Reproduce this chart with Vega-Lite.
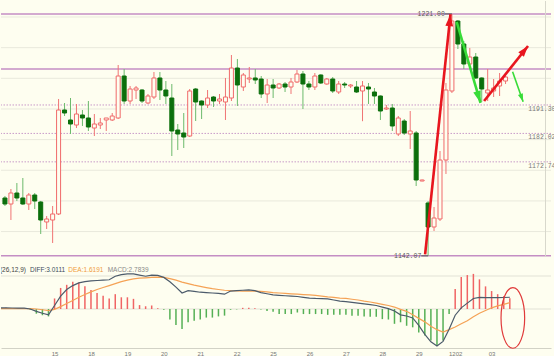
{
  "$schema": "https://vega.github.io/schema/vega-lite/v6.json",
  "padding": 0,
  "spacing": 0,
  "bounds": "flush",
  "background": "#fefef0",
  "resolve": {"scale": {"color": "independent"}},
  "config": {"view": {"stroke": null}, "font": "Liberation Sans"},
  "datasets": {
    "candles": [
      {"i":-1,"o":1160.95,"h":1161.6,"l":1158.34,"c":1158.99},
      {"i":0,"o":1158.99,"h":1163.88,"l":1153.77,"c":1162.58},
      {"i":1,"o":1162.58,"h":1165.84,"l":1159.97,"c":1160.95},
      {"i":2,"o":1160.95,"h":1167.47,"l":1158.7,"c":1158.99},
      {"i":3,"o":1158.99,"h":1162.58,"l":1157.03,"c":1161.93},
      {"i":4,"o":1161.93,"h":1162.58,"l":1157.36,"c":1159.97},
      {"i":5,"o":1159.64,"h":1160.0,"l":1149.2,"c":1153.77},
      {"i":6,"o":1153.12,"h":1155.07,"l":1150.83,"c":1154.1},
      {"i":7,"o":1153.77,"h":1158.34,"l":1146.27,"c":1155.73},
      {"i":8,"o":1155.73,"h":1193.25,"l":1155.4,"c":1189.66},
      {"i":9,"o":1189.66,"h":1191.94,"l":1187.7,"c":1188.68},
      {"i":10,"o":1186.4,"h":1193.57,"l":1181.83,"c":1185.09},
      {"i":11,"o":1184.76,"h":1191.62,"l":1183.78,"c":1188.35},
      {"i":12,"o":1188.03,"h":1189.66,"l":1184.44,"c":1187.05},
      {"i":13,"o":1187.05,"h":1192.59,"l":1182.81,"c":1184.11},
      {"i":14,"o":1183.78,"h":1188.35,"l":1181.17,"c":1185.09},
      {"i":15,"o":1184.76,"h":1187.05,"l":1183.46,"c":1185.42},
      {"i":16,"o":1186.4,"h":1187.05,"l":1182.81,"c":1187.05},
      {"i":17,"o":1186.4,"h":1188.68,"l":1186.07,"c":1187.7},
      {"i":18,"o":1187.05,"h":1204.34,"l":1186.72,"c":1200.75},
      {"i":19,"o":1200.75,"h":1203.03,"l":1191.62,"c":1192.59},
      {"i":20,"o":1192.59,"h":1197.49,"l":1191.62,"c":1196.51},
      {"i":21,"o":1196.18,"h":1197.49,"l":1193.25,"c":1196.84},
      {"i":22,"o":1196.18,"h":1196.5,"l":1191.94,"c":1192.59},
      {"i":23,"o":1191.94,"h":1194.88,"l":1191.62,"c":1194.23},
      {"i":24,"o":1193.9,"h":1202.06,"l":1193.25,"c":1200.1},
      {"i":25,"o":1200.1,"h":1202.06,"l":1192.92,"c":1196.18},
      {"i":26,"o":1196.18,"h":1199.12,"l":1191.62,"c":1194.23},
      {"i":27,"o":1193.57,"h":1198.14,"l":1174.65,"c":1182.81},
      {"i":28,"o":1183.13,"h":1185.09,"l":1176.61,"c":1181.83},
      {"i":29,"o":1182.15,"h":1188.68,"l":1177.26,"c":1180.85},
      {"i":30,"o":1181.17,"h":1196.51,"l":1180.85,"c":1195.86},
      {"i":31,"o":1196.51,"h":1196.84,"l":1186.07,"c":1192.27},
      {"i":32,"o":1192.59,"h":1192.8,"l":1186.72,"c":1191.29},
      {"i":33,"o":1191.29,"h":1196.18,"l":1190.31,"c":1193.57},
      {"i":34,"o":1193.9,"h":1194.23,"l":1190.64,"c":1192.59},
      {"i":35,"o":1192.59,"h":1194.88,"l":1191.62,"c":1193.25},
      {"i":36,"o":1192.27,"h":1200.1,"l":1186.4,"c":1193.9},
      {"i":37,"o":1193.57,"h":1207.6,"l":1192.59,"c":1203.36},
      {"i":38,"o":1203.36,"h":1206.3,"l":1190.96,"c":1197.81},
      {"i":39,"o":1197.16,"h":1201.73,"l":1195.86,"c":1201.08},
      {"i":40,"o":1199.77,"h":1203.69,"l":1198.47,"c":1200.1},
      {"i":41,"o":1200.1,"h":1203.03,"l":1198.14,"c":1199.45},
      {"i":42,"o":1199.77,"h":1200.75,"l":1193.57,"c":1194.88},
      {"i":43,"o":1194.88,"h":1199.77,"l":1191.94,"c":1197.81},
      {"i":44,"o":1197.81,"h":1199.77,"l":1193.57,"c":1196.84},
      {"i":45,"o":1196.84,"h":1198.47,"l":1196.51,"c":1198.14},
      {"i":46,"o":1198.14,"h":1198.79,"l":1195.53,"c":1197.16},
      {"i":47,"o":1197.16,"h":1200.1,"l":1194.88,"c":1198.79},
      {"i":48,"o":1198.79,"h":1202.71,"l":1198.47,"c":1201.4},
      {"i":49,"o":1201.4,"h":1202.38,"l":1189.98,"c":1198.14},
      {"i":50,"o":1198.14,"h":1199.12,"l":1196.18,"c":1197.16},
      {"i":51,"o":1197.16,"h":1201.73,"l":1196.18,"c":1200.75},
      {"i":52,"o":1201.08,"h":1201.3,"l":1198.14,"c":1198.47},
      {"i":53,"o":1198.14,"h":1200.1,"l":1197.9,"c":1199.77},
      {"i":54,"o":1199.77,"h":1200.42,"l":1195.2,"c":1195.86},
      {"i":55,"o":1195.53,"h":1199.12,"l":1194.88,"c":1198.14},
      {"i":56,"o":1198.14,"h":1198.79,"l":1196.84,"c":1197.81},
      {"i":57,"o":1197.49,"h":1198.14,"l":1196.84,"c":1197.81},
      {"i":58,"o":1197.16,"h":1199.12,"l":1195.2,"c":1195.53},
      {"i":59,"o":1195.86,"h":1199.12,"l":1186.0,"c":1197.49},
      {"i":60,"o":1197.16,"h":1198.47,"l":1191.62,"c":1196.51},
      {"i":61,"o":1195.53,"h":1196.84,"l":1191.62,"c":1194.23},
      {"i":62,"o":1194.23,"h":1194.4,"l":1186.4,"c":1189.33},
      {"i":63,"o":1189.98,"h":1191.29,"l":1189.66,"c":1190.31},
      {"i":64,"o":1190.31,"h":1191.62,"l":1182.81,"c":1184.44},
      {"i":65,"o":1181.83,"h":1187.7,"l":1181.17,"c":1187.05},
      {"i":66,"o":1186.07,"h":1186.72,"l":1181.5,"c":1182.15},
      {"i":67,"o":1181.83,"h":1189.33,"l":1176.93,"c":1182.81},
      {"i":68,"o":1182.15,"h":1182.81,"l":1164.86,"c":1166.82},
      {"i":69,"o":1166.49,"h":1166.95,"l":1166.4,"c":1166.82},
      {"i":70,"o":1159.32,"h":1159.97,"l":1142.07,"c":1151.49},
      {"i":71,"o":1151.49,"h":1158.01,"l":1150.18,"c":1154.42},
      {"i":72,"o":1154.1,"h":1176.28,"l":1153.44,"c":1173.34},
      {"i":73,"o":1173.34,"h":1198.47,"l":1168.78,"c":1196.18},
      {"i":74,"o":1195.86,"h":1221.0,"l":1195.2,"c":1218.69},
      {"i":75,"o":1218.69,"h":1219.02,"l":1209.56,"c":1211.19},
      {"i":76,"o":1211.19,"h":1212.17,"l":1203.03,"c":1204.67},
      {"i":77,"o":1204.67,"h":1209.89,"l":1204.01,"c":1206.95},
      {"i":78,"o":1206.95,"h":1208.25,"l":1199.77,"c":1200.1},
      {"i":79,"o":1200.1,"h":1200.3,"l":1192.27,"c":1196.51},
      {"i":80,"o":1195.2,"h":1203.03,"l":1192.59,"c":1196.18},
      {"i":81,"o":1195.86,"h":1199.77,"l":1193.9,"c":1196.84},
      {"i":82,"o":1197.49,"h":1201.73,"l":1194.23,"c":1199.12},
      {"i":83,"o":1199.12,"h":1200.75,"l":1198.14,"c":1200.42}
    ],
    "macd": [
      {"i":-1,"diff":0.3,"dea":0.1,"m":0.3},
      {"i":0,"diff":0.3,"dea":0.1,"m":0.3},
      {"i":1,"diff":0.25,"dea":0.1,"m":0.2},
      {"i":2,"diff":0.2,"dea":0.1,"m":0.1},
      {"i":3,"diff":0.2,"dea":0.1,"m":0.1},
      {"i":4,"diff":0.0,"dea":0.1,"m":-0.2},
      {"i":5,"diff":-0.6,"dea":0.0,"m":-1.2},
      {"i":6,"diff":-1.1,"dea":-0.2,"m":-1.6},
      {"i":7,"diff":-1.5,"dea":-0.4,"m":-1.9},
      {"i":8,"diff":0.9,"dea":-0.1,"m":2.7},
      {"i":9,"diff":3.3,"dea":0.6,"m":5.4},
      {"i":10,"diff":5.0,"dea":1.4,"m":6.2},
      {"i":11,"diff":6.0,"dea":2.2,"m":7.0},
      {"i":12,"diff":6.7,"dea":3.0,"m":6.8},
      {"i":13,"diff":7.0,"dea":3.7,"m":5.8},
      {"i":14,"diff":7.2,"dea":4.4,"m":4.9},
      {"i":15,"diff":7.3,"dea":5.0,"m":4.1},
      {"i":16,"diff":7.4,"dea":5.5,"m":3.4},
      {"i":17,"diff":7.5,"dea":6.0,"m":2.7},
      {"i":18,"diff":8.4,"dea":6.5,"m":3.8},
      {"i":19,"diff":8.8,"dea":7.0,"m":3.0},
      {"i":20,"diff":9.0,"dea":7.4,"m":3.0},
      {"i":21,"diff":9.0,"dea":7.7,"m":2.6},
      {"i":22,"diff":8.7,"dea":7.9,"m":1.0},
      {"i":23,"diff":8.4,"dea":8.0,"m":0.7},
      {"i":24,"diff":8.7,"dea":8.1,"m":0.9},
      {"i":25,"diff":8.6,"dea":8.15,"m":0.2},
      {"i":26,"diff":8.1,"dea":8.1,"m":-0.2},
      {"i":27,"diff":7.0,"dea":7.8,"m":-2.7},
      {"i":28,"diff":5.6,"dea":7.4,"m":-4.1},
      {"i":29,"diff":4.1,"dea":6.9,"m":-5.1},
      {"i":30,"diff":4.7,"dea":6.5,"m":-3.4},
      {"i":31,"diff":4.5,"dea":6.1,"m":-3.0},
      {"i":32,"diff":4.3,"dea":5.8,"m":-2.7},
      {"i":33,"diff":4.2,"dea":5.5,"m":-2.2},
      {"i":34,"diff":4.1,"dea":5.2,"m":-2.2},
      {"i":35,"diff":4.0,"dea":5.0,"m":-1.9},
      {"i":36,"diff":3.8,"dea":4.8,"m":-1.7},
      {"i":37,"diff":4.6,"dea":4.7,"m":-0.2},
      {"i":38,"diff":4.7,"dea":4.65,"m":-0.1},
      {"i":39,"diff":4.8,"dea":4.6,"m":0.3},
      {"i":40,"diff":4.9,"dea":4.6,"m":0.3},
      {"i":41,"diff":4.7,"dea":4.6,"m":0.2},
      {"i":42,"diff":4.2,"dea":4.5,"m":-0.1},
      {"i":43,"diff":3.9,"dea":4.4,"m":-0.5},
      {"i":44,"diff":3.6,"dea":4.2,"m":-0.7},
      {"i":45,"diff":3.5,"dea":4.1,"m":-1.3},
      {"i":46,"diff":3.4,"dea":4.0,"m":-1.3},
      {"i":47,"diff":3.3,"dea":3.9,"m":-1.3},
      {"i":48,"diff":3.2,"dea":3.8,"m":-0.9},
      {"i":49,"diff":3.0,"dea":3.7,"m":-1.3},
      {"i":50,"diff":2.8,"dea":3.6,"m":-1.3},
      {"i":51,"diff":2.7,"dea":3.5,"m":-1.3},
      {"i":52,"diff":2.65,"dea":3.3,"m":-1.3},
      {"i":53,"diff":2.6,"dea":3.1,"m":-1.5},
      {"i":54,"diff":2.3,"dea":3.0,"m":-1.5},
      {"i":55,"diff":2.0,"dea":2.8,"m":-1.5},
      {"i":56,"diff":1.9,"dea":2.7,"m":-1.5},
      {"i":57,"diff":1.7,"dea":2.5,"m":-1.7},
      {"i":58,"diff":1.5,"dea":2.3,"m":-1.7},
      {"i":59,"diff":1.3,"dea":2.0,"m":-1.9},
      {"i":60,"diff":1.1,"dea":1.8,"m":-2.0},
      {"i":61,"diff":0.9,"dea":1.5,"m":-2.0},
      {"i":62,"diff":0.5,"dea":1.2,"m":-2.6},
      {"i":63,"diff":0.1,"dea":0.9,"m":-2.7},
      {"i":64,"diff":-0.5,"dea":0.5,"m":-3.8},
      {"i":65,"diff":-1.5,"dea":-0.1,"m":-3.4},
      {"i":66,"diff":-1.8,"dea":-0.6,"m":-4.3},
      {"i":67,"diff":-2.3,"dea":-1.5,"m":-4.7},
      {"i":68,"diff":-4.2,"dea":-2.4,"m":-6.0},
      {"i":69,"diff":-6.5,"dea":-3.3,"m":-6.8},
      {"i":70,"diff":-8.4,"dea":-4.4,"m":-8.1},
      {"i":71,"diff":-9.5,"dea":-5.3,"m":-9.2},
      {"i":72,"diff":-8.3,"dea":-5.9,"m":-8.1},
      {"i":73,"diff":-5.2,"dea":-5.3,"m":-1.3},
      {"i":74,"diff":-1.6,"dea":-4.6,"m":5.1},
      {"i":75,"diff":0.3,"dea":-3.8,"m":8.2},
      {"i":76,"diff":1.5,"dea":-3.0,"m":8.7},
      {"i":77,"diff":2.7,"dea":-2.0,"m":9.0},
      {"i":78,"diff":3.0,"dea":-1.1,"m":7.6},
      {"i":79,"diff":2.9,"dea":-0.4,"m":5.8},
      {"i":80,"diff":2.9,"dea":0.3,"m":4.6},
      {"i":81,"diff":2.9,"dea":0.8,"m":3.8},
      {"i":82,"diff":2.95,"dea":1.2,"m":3.3},
      {"i":83,"diff":3.01,"dea":1.62,"m":2.78}
    ],
    "hlines": [
      {"p":1150,"k":"grid"},{"p":1160,"k":"grid"},{"p":1170,"k":"grid"},{"p":1180,"k":"grid"},
      {"p":1190,"k":"grid"},{"p":1200,"k":"grid"},{"p":1210,"k":"grid"},{"p":1220,"k":"grid"},
      {"p":1221.0,"k":"hl"},{"p":1203.0,"k":"hl"},{"p":1142.07,"k":"hl"},
      {"p":1191.3,"k":"fib"},{"p":1182.02,"k":"fib"},{"p":1172.74,"k":"fib"}
    ],
    "edge": [{"i":89.7}],
    "labels": [
      {"t":"1221.00","k":"l","i0":72.82,"i":74,"p":1221.0},
      {"t":"1142.07","k":"l","i0":68.86,"i":70,"p":1142.07},
      {"t":"1191.30","k":"r","i0":86.8,"i":86.8,"p":1191.3},
      {"t":"1182.02","k":"r","i0":86.8,"i":86.8,"p":1182.02},
      {"t":"1172.74","k":"r","i0":86.8,"i":86.8,"p":1172.74}
    ],
    "arrows": [
      {"a":"r1","t":"up","s":0,"i":69.5,"p":1142.57},
      {"a":"r1","t":"up","s":1,"i":73.76,"p":1220.9},
      {"a":"g1","t":"down","s":0,"i":74.8,"p":1218.37},
      {"a":"g1","t":"down","s":1,"i":78.8,"p":1192.0},
      {"a":"r2","t":"up","s":0,"i":79.4,"p":1192.59},
      {"a":"r2","t":"up","s":1,"i":86.77,"p":1210.54},
      {"a":"g2","t":"down","s":0,"i":84.18,"p":1202.15},
      {"a":"g2","t":"down","s":1,"i":85.95,"p":1192.36}
    ],
    "mgrid": [{"v":8.46},{"v":0}],
    "legend": [
      {"t":"(26,12,9)","k":"p","i":-1.0,"v":10},
      {"t":"DIFF:3.0111","k":"diff","i":3.95,"v":10},
      {"t":"DEA:1.6191","k":"dea","i":10.27,"v":10},
      {"t":"MACD:2.7839","k":"macd","i":16.75,"v":10}
    ],
    "ring": [{"i":83.5,"v":-2.3}]
  },
  "vconcat": [
    {
      "width": 550,
      "height": 256,
      "layer": [
        {
          "data": {"name": "hlines"},
          "transform": [{"filter": "datum.k == 'grid'"}],
          "mark": {"type": "rule", "color": "#e9e9dc", "strokeWidth": 1},
          "encoding": {"y": {"field": "p", "type": "quantitative", "scale": {"domain": [1141.7, 1225.22], "nice": false, "zero": false}, "axis": null}}
        },
        {
          "data": {"name": "hlines"},
          "transform": [{"filter": "datum.k == 'fib'"}],
          "mark": {"type": "rule", "color": "#c99ac9", "strokeWidth": 1, "strokeDash": [1.5, 1.5]},
          "encoding": {"y": {"field": "p", "type": "quantitative", "scale": {"domain": [1141.7, 1225.22], "nice": false, "zero": false}, "axis": null}}
        },
        {
          "data": {"name": "hlines"},
          "transform": [{"filter": "datum.k == 'hl'"}],
          "mark": {"type": "rule", "color": "#c48ec4", "strokeWidth": 1.5},
          "encoding": {"y": {"field": "p", "type": "quantitative", "scale": {"domain": [1141.7, 1225.22], "nice": false, "zero": false}, "axis": null}}
        },
        {
          "data": {"name": "edge"},
          "mark": {"type": "rule", "color": "#d8d8cc", "strokeWidth": 1},
          "encoding": {"x": {"field": "i", "type": "quantitative", "scale": {"domain": [-0.824, 89.786], "nice": false, "zero": false}, "axis": null}}
        },
        {
          "data": {"name": "candles"},
          "mark": {"type": "rule", "strokeWidth": 1, "clip": true},
          "encoding": {
            "x": {"field": "i", "type": "quantitative", "scale": {"domain": [-0.824, 89.786], "nice": false, "zero": false}, "axis": null},
            "y": {"field": "l", "type": "quantitative", "scale": {"domain": [1141.7, 1225.22], "nice": false, "zero": false}, "axis": null},
            "y2": {"field": "h"},
            "color": {"condition": {"test": "datum.c >= datum.o", "value": "#f07474"}, "value": "#6cba6c"}
          }
        },
        {
          "data": {"name": "candles"},
          "mark": {"type": "bar", "size": 4, "strokeWidth": 1, "clip": true},
          "encoding": {
            "x": {"field": "i", "type": "quantitative", "scale": {"domain": [-0.824, 89.786], "nice": false, "zero": false}, "axis": null},
            "y": {"field": "o", "type": "quantitative", "scale": {"domain": [1141.7, 1225.22], "nice": false, "zero": false}, "axis": null},
            "y2": {"field": "c"},
            "fill": {"condition": {"test": "datum.c >= datum.o", "value": "#fefef0"}, "value": "#0c6f0c"},
            "stroke": {"condition": {"test": "datum.c >= datum.o", "value": "#f06a6a"}, "value": "#0c6f0c"}
          }
        },
        {
          "data": {"name": "labels"},
          "transform": [{"filter": "datum.k == 'l'"}],
          "mark": {"type": "rule", "color": "#555555", "strokeWidth": 1},
          "encoding": {
            "x": {"field": "i0", "type": "quantitative", "scale": {"domain": [-0.824, 89.786], "nice": false, "zero": false}, "axis": null},
            "x2": {"field": "i"},
            "y": {"field": "p", "type": "quantitative", "scale": {"domain": [1141.7, 1225.22], "nice": false, "zero": false}, "axis": null}
          }
        },
        {
          "data": {"name": "labels"},
          "transform": [{"filter": "datum.k == 'l'"}],
          "mark": {"type": "text", "align": "right", "baseline": "middle", "font": "Liberation Mono", "fontSize": 6.5, "color": "#555555"},
          "encoding": {
            "x": {"field": "i0", "type": "quantitative", "scale": {"domain": [-0.824, 89.786], "nice": false, "zero": false}, "axis": null},
            "y": {"field": "p", "type": "quantitative", "scale": {"domain": [1141.7, 1225.22], "nice": false, "zero": false}, "axis": null},
            "text": {"field": "t"}
          }
        },
        {
          "data": {"name": "labels"},
          "transform": [{"filter": "datum.k == 'r'"}],
          "mark": {"type": "text", "align": "left", "baseline": "top", "dy": 1, "font": "Liberation Mono", "fontSize": 6.5, "color": "#7a7a7a"},
          "encoding": {
            "x": {"field": "i0", "type": "quantitative", "scale": {"domain": [-0.824, 89.786], "nice": false, "zero": false}, "axis": null},
            "y": {"field": "p", "type": "quantitative", "scale": {"domain": [1141.7, 1225.22], "nice": false, "zero": false}, "axis": null},
            "text": {"field": "t"}
          }
        },
        {
          "data": {"name": "arrows"},
          "mark": {"type": "line", "strokeCap": "butt"},
          "encoding": {
            "x": {"field": "i", "type": "quantitative", "scale": {"domain": [-0.824, 89.786], "nice": false, "zero": false}, "axis": null},
            "y": {"field": "p", "type": "quantitative", "scale": {"domain": [1141.7, 1225.22], "nice": false, "zero": false}, "axis": null},
            "detail": {"field": "a"},
            "order": {"field": "s"},
            "color": {"field": "t", "type": "nominal", "scale": {"domain": ["up", "down"], "range": ["#e8161e", "#38dc38"]}, "legend": null},
            "strokeWidth": {"condition": {"test": "datum.a == 'g2'", "value": 1.6}, "value": 2.6}
          }
        },
        {
          "data": {"name": "arrows"},
          "transform": [{"filter": "datum.s == 1"}],
          "mark": {"type": "point", "shape": "M0,0L0.65,2L-0.65,2Z", "filled": true, "opacity": 1, "strokeWidth": 0},
          "encoding": {
            "x": {"field": "i", "type": "quantitative", "scale": {"domain": [-0.824, 89.786], "nice": false, "zero": false}, "axis": null},
            "y": {"field": "p", "type": "quantitative", "scale": {"domain": [1141.7, 1225.22], "nice": false, "zero": false}, "axis": null},
            "color": {"field": "t", "type": "nominal", "scale": {"domain": ["up", "down"], "range": ["#e8161e", "#38dc38"]}, "legend": null},
            "angle": {"condition": [
              {"test": "datum.a == 'r1'", "value": 6},
              {"test": "datum.a == 'g1'", "value": 163},
              {"test": "datum.a == 'r2'", "value": 39}
            ], "value": 160},
            "size": {"condition": [
              {"test": "datum.a == 'g2'", "value": 64},
              {"test": "datum.a == 'r2'", "value": 121}
            ], "value": 144}
          }
        }
      ]
    },
    {
      "width": 550,
      "height": 91,
      "layer": [
        {
          "data": {"name": "mgrid"},
          "mark": {"type": "rule", "color": "#e2e2d6", "strokeWidth": 1},
          "encoding": {"y": {"field": "v", "type": "quantitative", "scale": {"domain": [-10, 13.33], "nice": false, "zero": false}, "axis": null}}
        },
        {
          "data": {"name": "macd"},
          "mark": {"type": "rule", "strokeWidth": 1.5, "clip": true},
          "encoding": {
            "x": {"field": "i", "type": "quantitative", "scale": {"domain": [-0.824, 89.786], "nice": false, "zero": false},
              "axis": {"values": [8, 14, 20, 26, 32, 38, 44, 50, 56, 62, 68, 74, 80], "labelExpr": "['15','18','19','20','21','22','25','26','27','28','29','1202','03'][round((datum.value - 8) / 6)]", "ticks": false, "grid": false, "domain": true, "domainColor": "#d2d2c6", "labelFontSize": 6, "labelColor": "#777777", "labelPadding": 2, "title": null, "labelFont": "Liberation Sans"}},
            "y": {"field": "m", "type": "quantitative", "scale": {"domain": [-10, 13.33], "nice": false, "zero": false}, "axis": null},
            "y2": {"datum": 0},
            "color": {"condition": {"test": "datum.m >= 0", "value": "#f06464"}, "value": "#55b055"}
          }
        },
        {
          "data": {"name": "macd"},
          "mark": {"type": "line", "color": "#f5a255", "strokeWidth": 1.2, "clip": true},
          "encoding": {
            "x": {"field": "i", "type": "quantitative", "scale": {"domain": [-0.824, 89.786], "nice": false, "zero": false},
              "axis": {"values": [8, 14, 20, 26, 32, 38, 44, 50, 56, 62, 68, 74, 80], "labelExpr": "['15','18','19','20','21','22','25','26','27','28','29','1202','03'][round((datum.value - 8) / 6)]", "ticks": false, "grid": false, "domain": true, "domainColor": "#d2d2c6", "labelFontSize": 6, "labelColor": "#777777", "labelPadding": 2, "title": null, "labelFont": "Liberation Sans"}},
            "y": {"field": "dea", "type": "quantitative", "scale": {"domain": [-10, 13.33], "nice": false, "zero": false}, "axis": null}
          }
        },
        {
          "data": {"name": "macd"},
          "mark": {"type": "line", "color": "#4c5b6b", "strokeWidth": 1.2, "clip": true},
          "encoding": {
            "x": {"field": "i", "type": "quantitative", "scale": {"domain": [-0.824, 89.786], "nice": false, "zero": false},
              "axis": {"values": [8, 14, 20, 26, 32, 38, 44, 50, 56, 62, 68, 74, 80], "labelExpr": "['15','18','19','20','21','22','25','26','27','28','29','1202','03'][round((datum.value - 8) / 6)]", "ticks": false, "grid": false, "domain": true, "domainColor": "#d2d2c6", "labelFontSize": 6, "labelColor": "#777777", "labelPadding": 2, "title": null, "labelFont": "Liberation Sans"}},
            "y": {"field": "diff", "type": "quantitative", "scale": {"domain": [-10, 13.33], "nice": false, "zero": false}, "axis": null}
          }
        },
        {
          "data": {"name": "legend"},
          "mark": {"type": "text", "align": "left", "baseline": "middle", "fontSize": 6.5, "font": "Liberation Sans", "clip": true},
          "encoding": {
            "x": {"field": "i", "type": "quantitative", "scale": {"domain": [-0.824, 89.786], "nice": false, "zero": false},
              "axis": {"values": [8, 14, 20, 26, 32, 38, 44, 50, 56, 62, 68, 74, 80], "labelExpr": "['15','18','19','20','21','22','25','26','27','28','29','1202','03'][round((datum.value - 8) / 6)]", "ticks": false, "grid": false, "domain": true, "domainColor": "#d2d2c6", "labelFontSize": 6, "labelColor": "#777777", "labelPadding": 2, "title": null, "labelFont": "Liberation Sans"}},
            "y": {"field": "v", "type": "quantitative", "scale": {"domain": [-10, 13.33], "nice": false, "zero": false}, "axis": null},
            "text": {"field": "t"},
            "color": {"field": "k", "type": "nominal", "scale": {"domain": ["p", "diff", "dea", "macd"], "range": ["#444444", "#3d4b5c", "#f09a40", "#8a8a8a"]}, "legend": null}
          }
        },
        {
          "data": {"name": "ring"},
          "mark": {"type": "point", "shape": "M0,-1C0.2154,-1,0.39,-0.5523,0.39,0C0.39,0.5523,0.2154,1,0,1C-0.2154,1,-0.39,0.5523,-0.39,0C-0.39,-0.5523,-0.2154,-1,0,-1Z", "filled": false, "stroke": "#e03a3a", "strokeWidth": 1.2, "size": 3672, "opacity": 1},
          "encoding": {
            "x": {"field": "i", "type": "quantitative", "scale": {"domain": [-0.824, 89.786], "nice": false, "zero": false},
              "axis": {"values": [8, 14, 20, 26, 32, 38, 44, 50, 56, 62, 68, 74, 80], "labelExpr": "['15','18','19','20','21','22','25','26','27','28','29','1202','03'][round((datum.value - 8) / 6)]", "ticks": false, "grid": false, "domain": true, "domainColor": "#d2d2c6", "labelFontSize": 6, "labelColor": "#777777", "labelPadding": 2, "title": null, "labelFont": "Liberation Sans"}},
            "y": {"field": "v", "type": "quantitative", "scale": {"domain": [-10, 13.33], "nice": false, "zero": false}, "axis": null}
          }
        }
      ]
    }
  ]
}
